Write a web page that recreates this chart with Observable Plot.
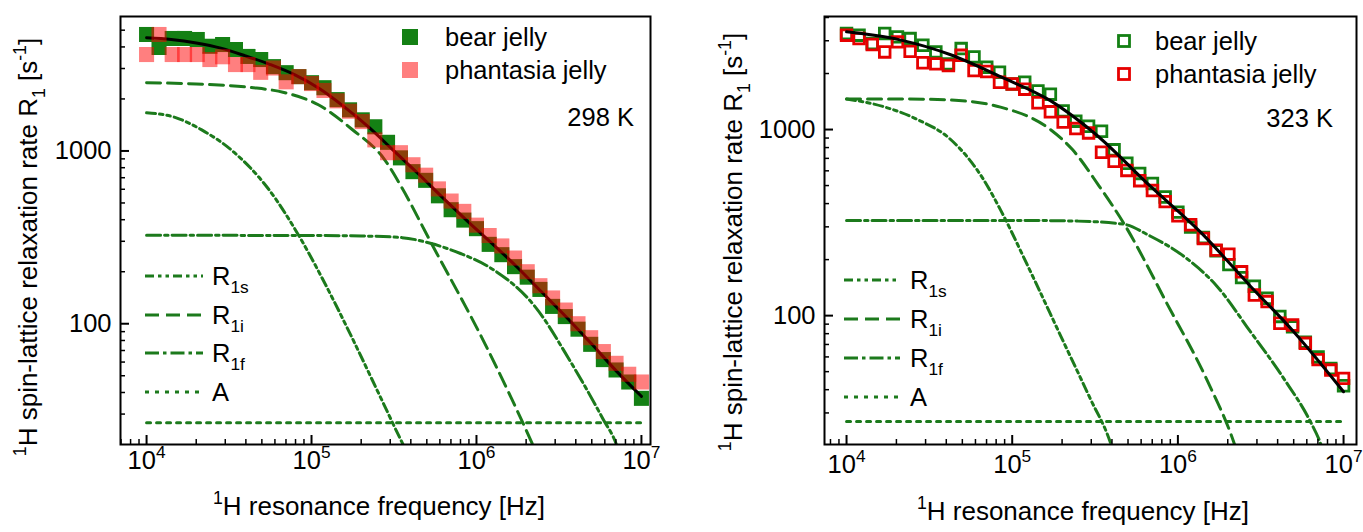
<!DOCTYPE html>
<html><head><meta charset="utf-8">
<script src="https://cdn.jsdelivr.net/npm/d3@7"></script>
<script src="https://cdn.jsdelivr.net/npm/@observablehq/plot@0.6"></script>
<style>
body{margin:0;background:#fff;}
#wrap{position:relative;width:1363px;height:532px;overflow:hidden;font-family:"Liberation Sans",Arial,Helvetica,sans-serif;}
#wrap svg{position:absolute;top:0;}
</style></head><body><div id="wrap"></div>
<script>
// ---------- data ----------
// resonance frequencies in kHz (13 points per decade, 10 kHz .. 10 MHz)
const freqKHz = [10, 11.9, 14.3, 17.0, 20.3, 24.2, 28.9, 34.6, 41.2, 49.2, 58.8, 70.2, 83.8, 100, 119, 143, 170, 203, 242, 289, 346, 412, 492, 588, 702, 838, 1000, 1194, 1425, 1701, 2031, 2424, 2894, 3455, 4125, 4924, 5878, 7017, 8377, 10000];

// 298 K
const bear298 = [4721, 3972, 4477, 4477, 4416, 4036, 4130, 3864, 3524, 3381, 3076, 2838, 2692, 2483, 2323, 1982, 1730, 1514, 1380, 1122, 912, 759, 676, 550, 457, 398, 355, 288, 251, 214, 186, 158, 126, 110, 93, 76, 62, 54, 46, 37];
const phantasia298 = [3614, 4721, 3614, 3614, 3614, 3381, 3508, 3162, 3162, 2851, 3020, 2512, 2692, 2455, 2239, 1950, 1698, 1479, 1159, 977, 977, 832, 724, 603, 513, 447, 372, 324, 282, 240, 200, 166, 141, 120, 100, 83, 69, 59, 51, 46];
const fit298F = [10, 14.1, 20, 28.2, 39.8, 56.2, 79.4, 112, 158, 224, 316, 447, 631, 891, 1259, 1778, 2512, 3548, 5012, 7079, 10000];
const fit298R = [4519, 4416, 4217, 3936, 3548, 3162, 2754, 2291, 1799, 1365, 1000, 733, 531, 389, 288, 211, 151, 108, 76, 53, 38];
const r1s298F = [10, 15, 21.6, 34, 55, 87, 125, 175, 257, 369, 420];
const r1s298R = [1663, 1560, 1324, 980, 600, 304, 160, 84, 39, 19, 15];
const r1i298F = [10, 20, 43, 68, 110, 175, 280, 354, 525, 1130, 2190, 2500];
const r1i298R = [2483, 2440, 2330, 2180, 1850, 1340, 880, 610, 300, 76, 20, 15];
const r1f298F = [10, 100, 200, 354, 525, 800, 1200, 2290, 3690, 5860, 7050, 7600];
const r1f298R = [325, 324, 322, 315, 292, 255, 212, 124, 61, 28, 20, 16];
const a298 = 26.7;

// 323 K
const bear323 = [3281, 3214, 2897, 3281, 3148, 3083, 2838, 2612, 2254, 2723, 2455, 2163, 2032, 1758, 1795, 1614, 1549, 1259, 1109, 1042, 979, 778, 659, 581, 513, 434, 360, 299, 263, 223, 188, 160, 144, 124, 99, 87, 72, 60, 52, 42];
const phantasia323 = [3214, 3083, 2864, 2612, 2958, 2630, 2286, 2254, 2208, 2506, 2075, 2051, 1795, 1758, 1648, 1393, 1245, 1096, 1012, 959, 755, 675, 603, 531, 470, 410, 344, 308, 260, 225, 214, 172, 129, 119, 91, 89, 71, 58, 51, 46];
const fit323F = [10, 21, 42.5, 85, 170, 310, 684, 1370, 2740, 5000, 10000];
const fit323R = [3350, 3034, 2523, 1923, 1430, 964, 495, 281, 144, 82, 39];
const r1s323F = [10, 16.7, 26.8, 42.5, 67, 85, 126, 200, 295, 390, 430];
const r1s323R = [1460, 1328, 1132, 884, 540, 370, 180, 75, 36, 21, 16];
const r1i323F = [10, 21, 42.5, 85, 170, 231, 333, 475, 864, 1500, 2170, 2400];
const r1i323R = [1460, 1460, 1440, 1320, 1000, 780, 500, 310, 115, 45, 21, 16];
const r1f323F = [10, 100, 250, 470, 684, 1080, 1720, 2740, 4350, 6300, 7200, 7800];
const r1f323R = [325, 325, 322, 310, 267, 209, 144, 82, 46, 27, 21, 17];
const a323 = 27;

// axis ticks
const xMajorTicks = [1e4, 1e5, 1e6, 1e7];
const xMinorTicks = [7e3, 8e3, 9e3, 2e4, 3e4, 4e4, 5e4, 6e4, 7e4, 8e4, 9e4, 2e5, 3e5, 4e5, 5e5, 6e5, 7e5, 8e5, 9e5, 2e6, 3e6, 4e6, 5e6, 6e6, 7e6, 8e6, 9e6];
const yMajorTicks = [100, 1000];
const yMinorTicks = [30, 40, 50, 60, 70, 80, 90, 200, 300, 400, 500, 600, 700, 800, 900, 2000, 3000, 4000, 5000];

const seriesNames = ["bear jelly", "phantasia jelly"];
const compNames = ["R_{1s}", "R_{1i}", "R_{1f}", "A"];
const xTitle = "^{1}H resonance frequency [Hz]";
const yTitle = "^{1}H spin-lattice relaxation rate R_{1} [s^{-1}]";

// ---------- styling ----------
const FONT = '"Liberation Sans", Arial, Helvetica, sans-serif';
const FS = 25.5;      // labels, legend
const FST = 26;       // axis titles
const GREEN = "#148014";
const LGREEN = "#1c7a1c";
const RED = "#ff0000";
const RED2 = "#e60000";
const LW = 3;
const DASH = {"R_{1s}": "9,4,3.5,4,3.5,4", "R_{1i}": "14,7", "R_{1f}": "14,4,3.5,4", "A": "4,6"};

const pts = (F, R) => F.map((f, i) => ({f: f * 1000, r: R[i]}));
const series = (R) => freqKHz.map((f, i) => ({f: f * 1000, r: R[i]}));

function buildPanel(c) {
  const plotW = c.width - c.marginLeft - c.marginRight;
  const plotH = c.height - c.marginTop - c.marginBottom;
  const inX = v => v > c.xDomain[0] && v < c.xDomain[1];
  const inY = v => v > c.yDomain[0] && v < c.yDomain[1];
  const compLine = (F, R, name) => Plot.line(pts(F, R), {x: "f", y: "r", curve: "monotone-x", stroke: LGREEN, strokeWidth: LW, strokeDasharray: DASH[name], clip: true});
  const marks = [
    compLine(c.r1sF, c.r1sR, "R_{1s}"),
    compLine(c.r1iF, c.r1iR, "R_{1i}"),
    compLine(c.r1fF, c.r1fR, "R_{1f}"),
    Plot.line([{f: 1e4, r: c.a}, {f: 1e7, r: c.a}], {x: "f", y: "r", stroke: LGREEN, strokeWidth: LW, strokeDasharray: DASH["A"]}),
  ];
  if (!c.open) {
    marks.push(Plot.dot(series(c.bear), {x: "f", y: "r", symbol: "square", r: 8.5, fill: GREEN, stroke: "none"}));
    marks.push(Plot.line(pts(c.fitF, c.fitR), {x: "f", y: "r", curve: "monotone-x", stroke: "black", strokeWidth: 3}));
    marks.push(Plot.dot(series(c.phantasia), {x: "f", y: "r", symbol: "square", r: 8.5, fill: RED, fillOpacity: 0.5, stroke: "none"}));
  } else {
    marks.push(Plot.dot(series(c.bear), {x: "f", y: "r", symbol: "square", r: 6, fill: "none", stroke: GREEN, strokeWidth: 2.8}));
    marks.push(Plot.dot(series(c.phantasia), {x: "f", y: "r", symbol: "square", r: 6, fill: "none", stroke: RED2, strokeWidth: 2.8}));
    marks.push(Plot.line(pts(c.fitF, c.fitR), {x: "f", y: "r", curve: "monotone-x", stroke: "black", strokeWidth: 3}));
  }
  marks.push(
    Plot.tickX(xMinorTicks.filter(inX), {x: d => d, insetTop: plotH - 5, stroke: "black", strokeWidth: 1.5}),
    Plot.tickX(xMajorTicks.filter(inX), {x: d => d, insetTop: plotH - 9, stroke: "black", strokeWidth: 2}),
    Plot.tickY(yMinorTicks.filter(inY), {y: d => d, insetRight: plotW - 5, stroke: "black", strokeWidth: 1.5}),
    Plot.tickY(yMajorTicks.filter(inY), {y: d => d, insetRight: plotW - 9, stroke: "black", strokeWidth: 2}),
    Plot.text(xMajorTicks, {x: d => d, frameAnchor: "bottom", dy: c.xLabelDy, text: d => "10^{" + Math.round(Math.log10(d)) + "}", fontSize: FS, fill: "black"}),
    Plot.text(yMajorTicks, {y: d => d, frameAnchor: "left", dx: -9, textAnchor: "end", text: d => String(d), fontSize: FS, fill: "black"}),
    Plot.frame({stroke: "black", strokeWidth: 2})
  );
  return Plot.plot({
    width: c.width, height: c.height,
    marginLeft: c.marginLeft, marginRight: c.marginRight, marginTop: c.marginTop, marginBottom: c.marginBottom,
    x: {type: "log", domain: c.xDomain, axis: null},
    y: {type: "log", domain: c.yDomain, axis: null},
    style: {fontFamily: FONT, fontSize: FS + "px", background: "transparent", overflow: "visible"},
    marks
  });
}

function addText(g, str, x, y, opts = {}) {
  const t = g.append("text").attr("x", x).attr("y", y)
    .attr("font-size", opts.size || FS).attr("font-family", FONT).attr("fill", "black")
    .attr("text-anchor", opts.anchor || "start");
  if (opts.rotate) t.attr("transform", `rotate(${opts.rotate},${x},${y})`);
  t.text(str);
  return t;
}

function richify(svg) {
  d3.select(svg).selectAll("text").each(function() {
    const s = this.textContent;
    if (!/[\^_]\{/.test(s)) return;
    const size = parseFloat(getComputedStyle(this).fontSize) || FS;
    const parts = [];
    const re = /(\^|_)\{([^}]*)\}/g;
    let last = 0, m;
    while ((m = re.exec(s))) {
      if (m.index > last) parts.push({t: s.slice(last, m.index), k: 0});
      parts.push({t: m[2], k: m[1] === "^" ? 1 : -1});
      last = re.lastIndex;
    }
    if (last < s.length) parts.push({t: s.slice(last), k: 0});
    while (this.firstChild) this.removeChild(this.firstChild);
    let shift = 0;
    for (const p of parts) {
      const target = p.k === 1 ? -0.42 * size : p.k === -1 ? 0.3 * size : 0;
      const ts = document.createElementNS("http://www.w3.org/2000/svg", "tspan");
      ts.setAttribute("dy", target - shift);
      if (p.k !== 0) ts.setAttribute("font-size", 0.68 * size);
      ts.textContent = p.t;
      this.appendChild(ts);
      shift = target;
    }
  });
}

function decorate(svg, c) {
  const g = d3.select(svg).append("g");
  // data legend (top right)
  c.legendRows.forEach((ly, i) => {
    const s = 16;
    if (!c.open) {
      g.append("rect").attr("x", c.legendX - s / 2).attr("y", ly - s / 2).attr("width", s).attr("height", s)
        .attr("fill", i === 0 ? GREEN : RED).attr("fill-opacity", i === 0 ? 1 : 0.5);
    } else {
      g.append("rect").attr("x", c.legendX - 5.5).attr("y", ly - 5.5).attr("width", 11).attr("height", 11)
        .attr("fill", "none").attr("stroke", i === 0 ? GREEN : RED2).attr("stroke-width", 2.8);
    }
    addText(g, seriesNames[i], c.legendTextX, ly + 9);
  });
  addText(g, c.temp, c.tempX, c.tempY + 9, {anchor: "end"});
  // component legend
  compNames.forEach((name, i) => {
    const ly = c.compRows[i];
    g.append("line").attr("x1", c.compX1).attr("x2", c.compX2).attr("y1", ly).attr("y2", ly)
      .attr("stroke", LGREEN).attr("stroke-width", LW).attr("stroke-dasharray", DASH[name]);
    addText(g, name, c.compTextX, ly + 9);
  });
  // axis titles
  addText(g, xTitle, c.xTitleX, c.xTitleY, {size: FST, anchor: "middle"});
  addText(g, yTitle, c.yTitleX, c.yTitleY, {size: FST, anchor: "middle", rotate: -90});
}

const wrap = document.getElementById("wrap");
const panels = [
  {left: 0, width: 683, height: 532, marginLeft: 120, marginRight: 33, marginTop: 16, marginBottom: 88,
   xDomain: [6950, 11350000], yDomain: [20, 6000], xLabelDy: 24,
   bear: bear298, phantasia: phantasia298, fitF: fit298F, fitR: fit298R,
   r1sF: r1s298F, r1sR: r1s298R, r1iF: r1i298F, r1iR: r1i298R, r1fF: r1f298F, r1fR: r1f298R, a: a298,
   open: false, temp: "298 K", tempX: 634, tempY: 117,
   legendX: 410, legendTextX: 445, legendRows: [37, 70],
   compX1: 145, compX2: 203, compTextX: 212, compRows: [276, 315, 353, 392],
   xTitleX: 379, xTitleY: 515, yTitleX: 37, yTitleY: 247},
  {left: 683, width: 680, height: 532, marginLeft: 141, marginRight: 7, marginTop: 16, marginBottom: 88,
   xDomain: [7362, 11970000], yDomain: [20.3, 4050], xLabelDy: 28,
   bear: bear323, phantasia: phantasia323, fitF: fit323F, fitR: fit323R,
   r1sF: r1s323F, r1sR: r1s323R, r1iF: r1i323F, r1iR: r1i323R, r1fF: r1f323F, r1fR: r1f323R, a: a323,
   open: true, temp: "323 K", tempX: 650, tempY: 118,
   legendX: 441, legendTextX: 472, legendRows: [41, 74],
   compX1: 161, compX2: 217, compTextX: 227, compRows: [280, 319, 358, 397],
   xTitleX: 400, xTitleY: 520, yTitleX: 59, yTitleY: 242}
];
for (const c of panels) {
  const svg = buildPanel(c);
  svg.style.left = c.left + "px";
  wrap.appendChild(svg);
  decorate(svg, c);
  richify(svg);
}
</script>
</body></html>
